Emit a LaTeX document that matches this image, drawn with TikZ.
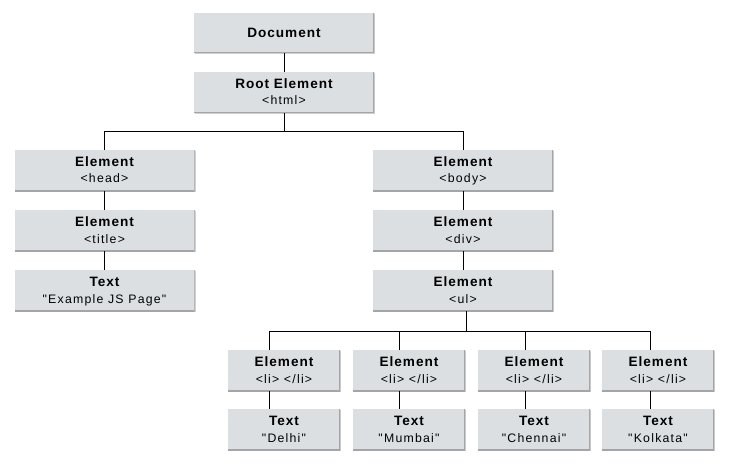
\documentclass[tikz,border=0pt]{standalone}
\usepackage{fontspec}
\setmainfont{Liberation Sans}
\newfontfamily\hdfont{Liberation Sans}[LetterSpace=7]
\newfontfamily\rgfont{Liberation Sans}[LetterSpace=10]
\usetikzlibrary{shadows}
\definecolor{boxfill}{HTML}{DCDFE2}
\definecolor{boxedge}{HTML}{A3A5A8}
\definecolor{shadowc}{HTML}{D0D0D0}
\newcommand{\hd}[1]{{\hdfont\bfseries\fontsize{13.6}{15}\selectfont #1}}
\newcommand{\bxt}[2]{\rule{0pt}{11pt}\hd{#1}\\[5pt]{\rgfont\fontsize{12.3}{14}\selectfont #2}\rule[-3pt]{0pt}{3pt}}
\tikzset{
  box/.style={rectangle, fill=boxfill, inner sep=0pt, align=center,
    minimum height=41pt, minimum width=180pt,
    drop shadow={shadow xshift=1pt, shadow yshift=-1pt, fill=shadowc, opacity=1},
    path picture={\draw[boxedge, line width=2pt]
      (path picture bounding box.north east) -- (path picture bounding box.south east)
      -- (path picture bounding box.south west);}},
  small/.style={box, minimum width=112pt},
  conn/.style={draw=black, line width=0.9pt}
}
\begin{document}
\begin{tikzpicture}[x=1pt,y=1pt]
\useasboundingbox[fill=white] (0,0) rectangle (729,467);
\node[box, minimum height=40pt] (doc) at (284,434) {\hd{Document}};
\node[box] (root) at (284,374.5) {\bxt{Root Element}{<html>}};
\node[box] (head) at (104.5,296.5) {\bxt{Element}{<head>}};
\node[box] (body) at (463,296.5) {\bxt{Element}{<body>}};
\node[box] (title) at (104.5,236.5) {\bxt{Element}{<title>}};
\node[box] (jstext) at (104.5,176.5) {\bxt{Text}{"Example JS Page"}};
\node[box] (div) at (463,236.5) {\bxt{Element}{<div>}};
\node[box] (ul) at (463,176.5) {\bxt{Element}{<ul>}};
\node[small] (li1) at (284,96.5) {\bxt{Element}{<li> </li>}};
\node[small] (li2) at (409,96.5) {\bxt{Element}{<li> </li>}};
\node[small] (li3) at (534,96.5) {\bxt{Element}{<li> </li>}};
\node[small] (li4) at (658,96.5) {\bxt{Element}{<li> </li>}};
\node[small] (t1) at (284,37.5) {\bxt{Text}{"Delhi"}};
\node[small] (t2) at (409,37.5) {\bxt{Text}{"Mumbai"}};
\node[small] (t3) at (534,37.5) {\bxt{Text}{"Chennai"}};
\node[small] (t4) at (658,37.5) {\bxt{Text}{"Kolkata"}};
% connectors
\draw[conn] (doc.south) -- (root.north);
\draw[conn] (root.south) -- (root.south |- 0,336);
\draw[conn] (head.north) |- (0,336 -| body.north) -- (body.north);
\draw[conn] (head.south) -- (title.north);
\draw[conn] (title.south) -- (jstext.north);
\draw[conn] (body.south) -- (div.north);
\draw[conn] (div.south) -- (ul.north);
\coordinate (c1) at ([xshift=-15pt]li1.north);
\coordinate (c2) at ([xshift=-10pt]li2.north);
\coordinate (c3) at ([xshift=-9pt]li3.north);
\coordinate (c4) at ([xshift=-8pt]li4.north);
\draw[conn] ([xshift=3pt]ul.south) -- ([xshift=3pt]ul.south |- 0,136);
\draw[conn] (c1) |- (0,136 -| c4) -- (c4);
\draw[conn] (c2) -- (c2 |- 0,136);
\draw[conn] (c3) -- (c3 |- 0,136);
\draw[conn] ([xshift=-15pt]li1.south) -- ([xshift=-15pt]t1.north);
\draw[conn] ([xshift=-10pt]li2.south) -- ([xshift=-10pt]t2.north);
\draw[conn] ([xshift=-9pt]li3.south) -- ([xshift=-9pt]t3.north);
\draw[conn] ([xshift=-8pt]li4.south) -- ([xshift=-8pt]t4.north);
\end{tikzpicture}
\end{document}
